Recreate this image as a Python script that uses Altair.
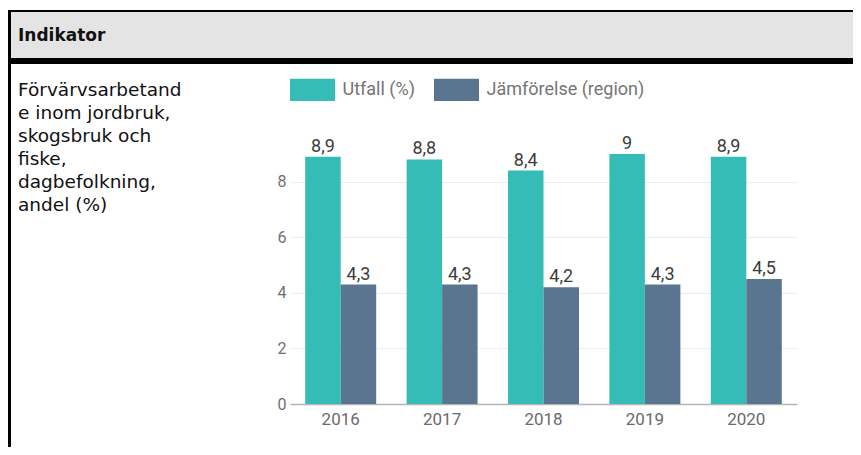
import altair as alt
import pandas as pd

years = ["2016", "2017", "2018", "2019", "2020"]
series = ["Utfall (%)", "Jämförelse (region)"]
utfall = [8.9, 8.8, 8.4, 9.0, 8.9]
jamforelse = [4.3, 4.3, 4.2, 4.3, 4.5]
colors = ["#36bcb7", "#5a7590"]
header_text = "Indikator"
indicator_lines = ["Förvärvsarbetand", "e inom jordbruk,", "skogsbruk och", "fiske,",
                   "dagbefolkning,", "andel (%)"]

rows = []
for i, y in enumerate(years):
    for s, vals in zip(series, [utfall, jamforelse]):
        v = vals[i]
        rows.append({"year": y, "series": s, "value": v,
                     "label": f"{v:g}".replace(".", ",")})
df = pd.DataFrame(rows)

one = pd.DataFrame({"k": [0]})

x_enc = alt.X("year:N", sort=years,
              scale=alt.Scale(paddingInner=0.3, paddingOuter=0.15),
              axis=alt.Axis(title=None, labelAngle=0, labelFont="Roboto", labelFontSize=17,
                            labelColor="#6a6a6a", labelPadding=7, ticks=False,
                            domainColor="#b5b5b5", domainWidth=1.5))
y_enc = alt.Y("value:Q", scale=alt.Scale(domain=[0, 9.5], nice=False),
              axis=alt.Axis(title=None, values=[0, 2, 4, 6, 8], labelFont="Roboto",
                            labelFontSize=16, labelColor="#707070", labelPadding=4,
                            ticks=False, domain=False, gridColor="#ececec"))
xoff = alt.XOffset("series:N", sort=series, scale=alt.Scale(paddingInner=0, paddingOuter=0))
color = alt.Color("series:N", sort=series,
                  scale=alt.Scale(domain=series, range=colors),
                  legend=alt.Legend(title=None, orient="none", direction="horizontal",
                                    legendX=2.5, legendY=-70.5, padding=0,
                                    symbolType="M-1.125,-0.56H1.125V0.56H-1.125Z",
                                    symbolSize=1600, symbolStrokeWidth=0,
                                    symbolOpacity=1,
                                    labelFont="Roboto", labelFontSize=18,
                                    labelColor="#757575", labelOffset=10,
                                    columnPadding=18))

bars = alt.Chart(df).mark_bar().encode(x=x_enc, y=y_enc, xOffset=xoff, color=color)
labels = alt.Chart(df).mark_text(baseline="alphabetic", dy=-5, font="Roboto", fontSize=18,
                                 color="#3c3c3c").encode(
    x=alt.X("year:N", sort=years), xOffset=alt.XOffset("series:N", sort=series),
    y="value:Q", text="label:N")

def rect(x, x2, y, y2, c):
    return alt.Chart(one).mark_rect(color=c).encode(
        x=alt.value(x), x2=alt.value(x2), y=alt.value(y), y2=alt.value(y2))

deco = [
    rect(-282, 600, -128, -82, "#e4e4e4"),
    rect(-282, 600, -130, -128, "#000000"),
    rect(-282, 600, -82, -76, "#000000"),
    rect(-282, -279, -130, 320, "#000000"),
]
head = alt.Chart(one).mark_text(align="left", baseline="alphabetic", font="DejaVu Sans",
                                fontSize=17, fontWeight="bold", color="#111111").encode(
    x=alt.value(-272), y=alt.value(-99), text=alt.value(header_text))
left = alt.Chart(one).mark_text(align="left", baseline="alphabetic", font="DejaVu Sans",
                                fontSize=18.5, lineHeight=23, color="#111111").encode(
    x=alt.value(-272), y=alt.value(-44.5), text=alt.value(indicator_lines))

chart = alt.layer(*deco, head, left, bars, labels).properties(
    width=507, height=264,
    padding={"left": 282, "top": 132, "right": 56, "bottom": 43},
    autosize=alt.AutoSizeParams(type="none"),
).configure_view(stroke=None)

chart.save("out.html", embed_options={"renderer": "svg", "actions": False})
